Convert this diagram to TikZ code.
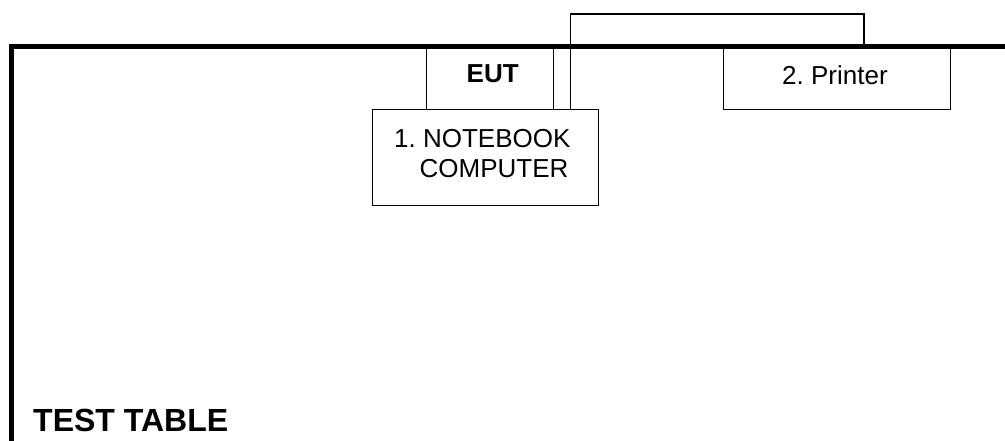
\documentclass[tikz,border=0pt]{standalone}
\usepackage{fontspec}
\setmainfont{Liberation Sans}
\frenchspacing
\begin{document}
\begin{tikzpicture}[x=1pt,y=1pt,
  thin box/.style={draw=black,line width=1.3pt,inner sep=0pt},
  table line/.style={draw=black,line width=4.5pt},
  cable/.style={draw=black,line width=1.3pt},
  lbl/.style={inner sep=0pt,anchor=base west,font=\fontsize{26}{30}\selectfont}]
\useasboundingbox (0,0) rectangle (1005,441);
% boxes
\node[thin box,minimum width=127pt,minimum height=64pt,anchor=south west] (eut) at (426,331) {};
\node[thin box,minimum width=226pt,minimum height=96pt,anchor=south west] (nb) at (372,235) {};
\node[thin box,minimum width=227pt,minimum height=64pt,anchor=south west] (pr) at (723,331) {};
% table
\coordinate (tr) at (1005,394.5);
\coordinate (tc) at (11.5,394.5);
\coordinate (bl) at (11.5,0);
\draw[table line] (tr) -- (tc) -- (bl);
% cable between notebook and printer
\coordinate (c1) at (570.7,331);
\coordinate (c2) at (864,427);
\draw[cable] (c1) |- (c2) -- (c2 |- pr.north);
% labels
\node[lbl,font=\fontsize{26}{30}\selectfont\bfseries] (teut) at (466.5,358) {EUT};
\node[lbl] (tnb1) at (394,293) {1. NOTEBOOK};
\node[lbl] (tnb2) at (419.5,263) {COMPUTER};
\node[lbl] (tpr) at (782,356) {2. Printer};
\node[lbl,font=\fontsize{32}{36}\selectfont\bfseries] (ttab) at (33,9.5) {TEST TABLE};
\end{tikzpicture}
\end{document}
